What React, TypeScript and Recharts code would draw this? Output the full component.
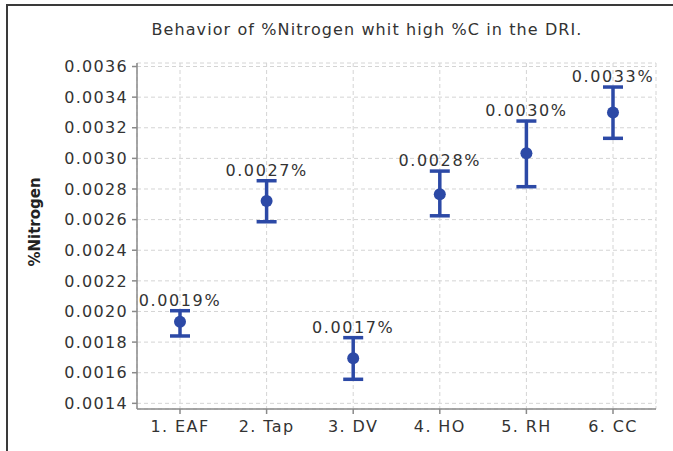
import { ComposedChart, Line, XAxis, YAxis, CartesianGrid, ErrorBar, LabelList } from 'recharts';

// interval plot: mean with lower / upper interval per stage
const categories = ['1. EAF', '2. Tap', '3. DV', '4. HO', '5. RH', '6. CC'];
const means = [0.001933, 0.002721, 0.001694, 0.002765, 0.003033, 0.0033];
const lower = [0.00184, 0.002586, 0.001557, 0.002625, 0.002815, 0.003131];
const upper = [0.002005, 0.002854, 0.001829, 0.002917, 0.003244, 0.003466];
const pointLabels = ['0.0019%', '0.0027%', '0.0017%', '0.0028%', '0.0030%', '0.0033%'];
const yTicks = [0.0014, 0.0016, 0.0018, 0.002, 0.0022, 0.0024, 0.0026, 0.0028, 0.003, 0.0032, 0.0034, 0.0036];

const data = categories.map((name, i) => ({
  name,
  mean: means[i],
  hi: upper[i],
  err: [means[i] - lower[i], upper[i] - means[i]],
  label: pointLabels[i],
}));

const BLUE = '#2c49a6';
const FONT = '"DejaVu Sans", Verdana, sans-serif';

const Dot = (props: any) => {
  const { cx, cy } = props;
  if (cx == null || cy == null) return null;
  return <circle cx={cx} cy={cy} r={6} fill={BLUE} />;
};

const App = () => {
  return (
    <div style={{ position: 'absolute', left: 0, top: 0, width: 673, height: 451, background: '#fff', fontFamily: FONT }}>
      <div style={{ position: 'absolute', left: 6, top: 4, right: 0, bottom: 0, borderTop: '2px solid #3a3a3a', borderLeft: '2px solid #3a3a3a' }} />
      <div style={{ position: 'absolute', left: 0, width: 734, top: 20, textAlign: 'center', fontSize: 16, letterSpacing: 1.1, color: '#333' }}>
        Behavior of %Nitrogen whit high %C in the DRI.
      </div>
      <div style={{ position: 'absolute', left: 35, top: 222, transform: 'translate(-50%, -50%) rotate(-90deg)', fontSize: 15, fontWeight: 'bold', color: '#222', whiteSpace: 'nowrap' }}>
        %Nitrogen
      </div>
      <ComposedChart
        width={673}
        height={451}
        data={data}
        margin={{ top: 63, right: 17, bottom: 0, left: 0 }}
        style={{ position: 'absolute', left: 0, top: 0 }}
      >
        <CartesianGrid stroke="#d4d4d4" strokeDasharray="4 3" />
        <XAxis
          dataKey="name"
          height={42}
          padding={{ left: 43, right: 43 }}
          tickSize={5}
          tickMargin={7}
          stroke="#8a8a8a"
          strokeWidth={1.5}
          tick={{ fill: '#333', fontSize: 16, fontFamily: FONT, letterSpacing: 1.4 }}
        />
        <XAxis xAxisId="top" dataKey="name" orientation="top" height={0} tick={false} tickLine={false} stroke="#8a8a8a" strokeWidth={1.5} />
        <YAxis
          width={137}
          domain={[0.001363, 0.003623]}
          ticks={yTicks}
          tickFormatter={(v: number) => v.toFixed(4)}
          tickSize={5}
          tickMargin={4}
          stroke="#8a8a8a"
          strokeWidth={1.5}
          allowDataOverflow
          tick={{ fill: '#333', fontSize: 16, fontFamily: FONT, letterSpacing: 1.3 }}
        />
        <YAxis yAxisId="right" orientation="right" width={0} tick={false} tickLine={false} stroke="#8a8a8a" strokeWidth={1.5} domain={[0.001363, 0.003623]} />
        <Line dataKey="mean" stroke="none" dot={<Dot />} activeDot={false} isAnimationActive={false}>
          <ErrorBar dataKey="err" direction="y" width={10} stroke={BLUE} strokeWidth={3.5} isAnimationActive={false} />
        </Line>
        <Line dataKey="hi" stroke="none" dot={false} activeDot={false} isAnimationActive={false}>
          <LabelList dataKey="label" position="top" offset={5} fill="#333" fontSize={16} fontFamily={FONT} letterSpacing={1.6} />
        </Line>
      </ComposedChart>
    </div>
  );
};

export default App;
